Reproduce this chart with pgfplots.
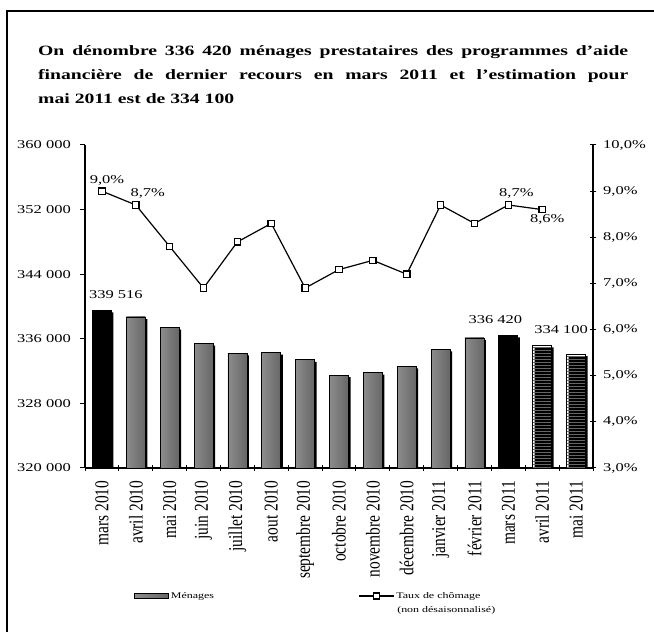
\documentclass[border=0pt]{standalone}
\usepackage{fontspec}
\setmainfont{Liberation Serif}[FakeStretch=1.38]
\newfontfamily\rotfont{Liberation Serif}
\newfontfamily\legfont{Liberation Serif}[FakeStretch=1.38]
\usepackage{pgfplots}
\usepackage{pgfplotstable}
\pgfplotsset{compat=1.18}
\usetikzlibrary{patterns}

\pgfplotstableread{
x y
0 339516
1 338700
2 337400
3 335400
4 334200
5 334300
6 333400
7 331500
8 331800
9 332600
10 334700
11 336100
12 336420
13 335200
14 334100
}\menages

\pgfplotstableread{
x y
0 9.0
1 8.7
2 7.8
3 6.9
4 7.9
5 8.3
6 6.9
7 7.3
8 7.5
9 7.2
10 8.7
11 8.3
12 8.7
13 8.6
}\chomage

\tikzset{barshade/.style={left color=black!45, middle color=white, right color=black!60}}
\pgfplotsset{shbar/.style={ybar, bar width=19bp, bar shift=0pt, barshade, draw=black, line width=0.8bp}}
\newcommand{\lf}{\legfont\fontsize{8.7}{14}\selectfont}

\begin{document}
\begin{tikzpicture}[x=1bp,y=1bp]
\useasboundingbox (0,0) rectangle (654,632);
\draw[line width=1.5bp] (7,-20) -- (7,621) -- (680,621);
\node[anchor=base west, inner sep=0pt] at (38,576.7) {\parbox[t]{590bp}{\fontsize{14.3}{24.4}\selectfont\bfseries\hyphenpenalty=10000\noindent
On dénombre 336 420 ménages prestataires des programmes d'aide\linebreak
financière de dernier recours en mars 2011 et l'estimation pour\linebreak
mai 2011 est de 334 100}};

\begin{axis}[
  at={(85bp,164bp)}, anchor=south west, scale only axis,
  width=508bp, height=323bp,
  xmin=-0.5, xmax=14.5, ymin=320000, ymax=360000,
  scaled y ticks=false,
  axis x line*=bottom, axis y line*=left,
  axis line style={line width=1.2bp, -},
  ytick={320000,328000,336000,344000,352000,360000},
  yticklabels={320 000,328 000,336 000,344 000,352 000,360 000},
  xtick={0,1,2,3,4,5,6,7,8,9,10,11,12,13,14},
  xticklabels={mars 2010,avril 2010,mai 2010,juin 2010,juillet 2010,aout 2010,septembre 2010,octobre 2010,novembre 2010,décembre 2010,janvier 2011,février 2011,mars 2011,avril 2011,mai 2011},
  minor xtick={-0.5,0.5,1.5,2.5,3.5,4.5,5.5,6.5,7.5,8.5,9.5,10.5,11.5,12.5,13.5,14.5},
  major x tick style={draw=none},
  minor x tick style={line width=1bp, black},
  minor tick length=6bp,
  major y tick style={line width=1bp, black},
  major tick length=5bp,
  ytick align=outside, xtick align=center,
  xticklabel style={rotate=90, yscale=1.27, anchor=east, inner sep=0pt, font=\rotfont\fontsize{15.5}{17}\selectfont},
  xticklabel shift=10bp,
  yticklabel style={inner sep=0pt, font=\fontsize{12}{14}\selectfont},
  yticklabel shift=9bp,
]
\addplot[ybar, bar width=19bp, bar shift=2bp, fill=black, draw=none] table[x=x, y expr=\thisrow{y}-250] {\menages};
\addplot[ybar, bar width=19bp, bar shift=0pt, fill=black, draw=black, line width=0.8bp] coordinates {(0,339516) (12,336420)};
\addplot[shbar] coordinates {(1,338700)};
\addplot[shbar] coordinates {(2,337400)};
\addplot[shbar] coordinates {(3,335400)};
\addplot[shbar] coordinates {(4,334200)};
\addplot[shbar] coordinates {(5,334300)};
\addplot[shbar] coordinates {(6,333400)};
\addplot[shbar] coordinates {(7,331500)};
\addplot[shbar] coordinates {(8,331800)};
\addplot[shbar] coordinates {(9,332600)};
\addplot[shbar] coordinates {(10,334700)};
\addplot[shbar] coordinates {(11,336100)};
\addplot[ybar, bar width=19bp, bar shift=0pt, pattern=horizontal lines, pattern color=black!60, draw=black, line width=0.8bp] coordinates {(13,335200) (14,334100)};
\node[anchor=base, font=\fontsize{12}{14}\selectfont, xshift=14bp, yshift=12bp] at (axis cs:0,339516) {339 516};
\node[anchor=base, font=\fontsize{12}{14}\selectfont, xshift=-13bp, yshift=12bp] at (axis cs:12,336420) {336 420};
\node[anchor=base, font=\fontsize{12}{14}\selectfont, xshift=-15bp, yshift=21bp] at (axis cs:14,334100) {334 100};
\end{axis}

\begin{axis}[
  at={(85bp,164bp)}, anchor=south west, scale only axis,
  width=508bp, height=323bp,
  xmin=-0.5, xmax=14.5, ymin=3, ymax=10,
  axis x line=none, axis y line*=right,
  axis line style={line width=1.2bp, -},
  ytick={3,4,5,6,7,8,9,10},
  yticklabels={{3,0\%},{4,0\%},{5,0\%},{6,0\%},{7,0\%},{8,0\%},{9,0\%},{10,0\%}},
  major y tick style={line width=1bp, black},
  major tick length=6bp, ytick align=center,
  yticklabel style={inner sep=0pt, font=\fontsize{12}{14}\selectfont},
  yticklabel shift=7bp,
  legend style={at={(0.09,-0.372)}, anchor=north west, draw=none, fill=none,
    font=\lf,
    /tikz/every even column/.append style={column sep=142bp},
    cells={anchor=west}},
  legend columns=2,
]
\addlegendimage{legend image code/.code={\draw[barshade, draw=black, line width=1bp] (0bp,-2.5bp) rectangle (34bp,2.5bp);}}
\addlegendentry{\lf Ménages}
\addplot[black, line width=1.2bp, mark=square*, mark size=3.2bp, mark options={fill=white, line width=1.2bp},
  legend image code/.code={\draw[line width=1.2bp] (0bp,0bp) -- (35bp,0bp); \draw[line width=1.2bp, fill=white] (14.5bp,-3bp) rectangle (20.5bp,3bp);}]
  table[x=x, y=y] {\chomage};
\addlegendentry{\parbox[t]{5cm}{\lf Taux de chômage\\\hspace*{1bp}(non désaisonnalisé)}}
\node[anchor=base, font=\fontsize{12}{14}\selectfont, xshift=5bp, yshift=7.4bp] at (axis cs:0,9.0) {9,0\%};
\node[anchor=base, font=\fontsize{12}{14}\selectfont, xshift=12bp, yshift=8.8bp] at (axis cs:1,8.7) {8,7\%};
\node[anchor=base, font=\fontsize{12}{14}\selectfont, xshift=8bp, yshift=8bp] at (axis cs:12,8.7) {8,7\%};
\node[anchor=base, font=\fontsize{12}{14}\selectfont, xshift=5bp, yshift=-13.3bp] at (axis cs:13,8.6) {8,6\%};
\end{axis}
\end{tikzpicture}
\end{document}
